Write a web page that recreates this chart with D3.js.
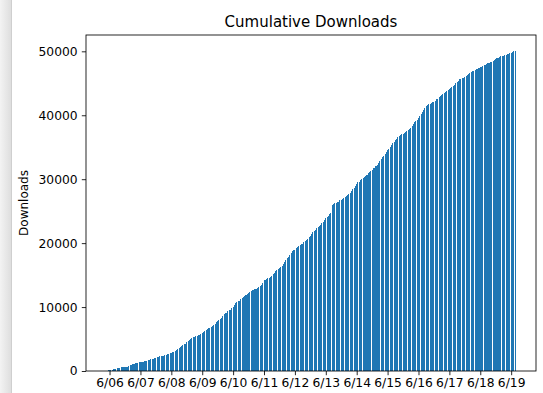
<!DOCTYPE html>
<html>
<head>
<meta charset="utf-8">
<script src="https://cdn.jsdelivr.net/npm/d3@7"></script>
<style>
  html, body { margin: 0; padding: 0; background: #fff; }
  svg { display: block; font-family: "DejaVu Sans", sans-serif; }
</style>
</head>
<body>
<svg id="chart" width="543" height="393"></svg>
<script>
// Hourly cumulative download counts, one row per day (UTC hours 0..23).
const startHour = Date.UTC(2023, 5, 5, 22); // first sample: 6/05 22:00
const lateJun05 = [20, 80];
const jun06 = [150, 190, 230, 280, 320, 370, 410, 460, 500, 550, 590, 620, 650, 670, 690, 760, 880, 1000, 1080, 1130, 1180, 1230, 1290, 1340];
const jun07 = [1360, 1400, 1450, 1500, 1560, 1620, 1700, 1770, 1830, 1880, 1930, 1980, 2050, 2130, 2210, 2290, 2320, 2360, 2400, 2480, 2560, 2650, 2730, 2800];
const jun08 = [2870, 2940, 3010, 3150, 3300, 3450, 3600, 3800, 3950, 4100, 4150, 4200, 4500, 4700, 4850, 5000, 5200, 5300, 5350, 5400, 5500, 5600, 5700, 5800];
const jun09 = [5900, 6050, 6200, 6350, 6500, 6650, 6800, 6950, 7050, 7200, 7400, 7600, 7800, 7950, 8100, 8300, 8600, 8900, 9000, 9100, 9350, 9500, 9600, 9800];
const jun10 = [10000, 10300, 10600, 10800, 10900, 11000, 11200, 11400, 11600, 11800, 11900, 12000, 12200, 12400, 12500, 12600, 12700, 12800, 12900, 13000, 13100, 13300, 13500, 13800];
const jun11 = [14200, 14300, 14400, 14500, 14600, 14700, 14900, 15200, 15400, 15600, 15800, 15900, 16100, 16300, 16500, 16800, 17100, 17300, 17600, 17900, 18200, 18500, 18700, 18900];
const jun12 = [19000, 19200, 19400, 19500, 19700, 19800, 19900, 20100, 20300, 20500, 20700, 20900, 21100, 21400, 21700, 21900, 22100, 22300, 22500, 22700, 22900, 23100, 23300, 23600];
const jun13 = [23900, 24100, 24300, 24500, 24700, 25900, 26100, 26200, 26300, 26400, 26500, 26700, 26800, 26900, 27000, 27200, 27300, 27500, 27700, 27800, 28100, 28400, 28700, 29000];
const jun14 = [29300, 29500, 29600, 29800, 30000, 30200, 30400, 30500, 30700, 30900, 31100, 31300, 31500, 31700, 31800, 32000, 32200, 32500, 32800, 33100, 33400, 33700, 34000, 34300];
const jun15 = [34600, 34800, 35100, 35300, 35600, 35800, 36100, 36300, 36600, 36800, 36900, 37000, 37100, 37300, 37400, 37500, 37700, 37800, 38000, 38300, 38600, 38900, 39100, 39300];
const jun16 = [39600, 39900, 40200, 40500, 40800, 41100, 41400, 41600, 41700, 41800, 41900, 42000, 42100, 42300, 42500, 42600, 42800, 43000, 43200, 43300, 43500, 43700, 43800, 43900];
const jun17 = [44100, 44200, 44400, 44600, 44800, 45000, 45200, 45400, 45600, 45700, 45800, 45900, 46000, 46100, 46300, 46400, 46600, 46700, 46900, 47000, 47100, 47200, 47300, 47400];
const jun18 = [47500, 47600, 47700, 47800, 47900, 48000, 48100, 48200, 48300, 48400, 48500, 48700, 48800, 48900, 49000, 49100, 49200, 49200, 49300, 49400, 49500, 49600, 49600, 49700];
const jun19 = [49800, 49900, 50000, 50050];

const yTicks = [0, 10000, 20000, 30000, 40000, 50000];
const titleText = "Cumulative Downloads";
const yLabelText = "Downloads";

const HOUR = 3600 * 1000;
const counts = [].concat(lateJun05, jun06, jun07, jun08, jun09, jun10, jun11, jun12, jun13, jun14, jun15, jun16, jun17, jun18, jun19);
const data = counts.map((v, i) => ({ t: new Date(startHour + i * HOUR), v }));

const barWidthMs = 0.8 * HOUR;
const margin = { left: 86, right: 536, top: 35, bottom: 371 };

// x extent: bar edges plus 5% padding on each side
const x0 = +data[0].t - barWidthMs / 2;
const x1 = +data[data.length - 1].t + barWidthMs / 2;
const pad = (x1 - x0) * 0.05;
const x = d3.scaleUtc()
  .domain([new Date(x0 - pad), new Date(x1 + pad)])
  .range([margin.left, margin.right]);

const yMax = d3.max(counts) * 1.05;
const y = d3.scaleLinear().domain([0, yMax]).range([margin.bottom, margin.top]);

const svg = d3.select("#chart");

// window edge strip on the far left
const defs = svg.append("defs");
const grad = defs.append("linearGradient").attr("id", "edge").attr("x1", 0).attr("x2", 1);
grad.append("stop").attr("offset", "0%").attr("stop-color", "#f3f3f3");
grad.append("stop").attr("offset", "100%").attr("stop-color", "#dedede");
svg.append("rect").attr("x", 0).attr("y", 0).attr("width", 11).attr("height", 393).attr("fill", "url(#edge)");
svg.append("rect").attr("x", 11).attr("y", 0).attr("width", 1).attr("height", 393).attr("fill", "#cfcfcf");

// bars, snapped to whole pixels
svg.append("g")
  .attr("shape-rendering", "crispEdges")
  .selectAll("rect")
  .data(data)
  .join("rect")
  .attr("x", d => x(new Date(+d.t - barWidthMs / 2)))
  .attr("width", d => x(new Date(+d.t + barWidthMs / 2)) - x(new Date(+d.t - barWidthMs / 2)))
  .attr("y", d => y(d.v))
  .attr("height", d => y(0) - y(d.v))
  .attr("fill", "#1f77b4");

// axes
const dayTicks = d3.utcDay.range(new Date(Date.UTC(2023, 5, 6)), new Date(Date.UTC(2023, 5, 19, 1)));
const xAxis = d3.axisBottom(x)
  .tickValues(dayTicks)
  .tickFormat(d3.utcFormat("%-m/%d"))
  .tickSize(4.2)
  .tickPadding(3.5)
  .tickSizeOuter(0);
const yAxis = d3.axisLeft(y)
  .tickValues(yTicks)
  .tickFormat(d3.format("d"))
  .tickSize(4.2)
  .tickPadding(4.2)
  .tickSizeOuter(0);

const gx = svg.append("g").attr("transform", `translate(0,${margin.bottom})`).call(xAxis);
const gy = svg.append("g").attr("transform", `translate(${margin.left},0)`).call(yAxis);
[gx, gy].forEach(g => {
  g.select(".domain").remove();
  g.selectAll(".tick line").attr("stroke", "#000").attr("stroke-width", 0.85);
  g.selectAll(".tick text").attr("fill", "#000").style("font-size", "12.3px").style("font-family", "DejaVu Sans");
});

// frame
svg.append("rect")
  .attr("x", margin.left).attr("y", margin.top)
  .attr("width", margin.right - margin.left)
  .attr("height", margin.bottom - margin.top)
  .attr("fill", "none").attr("stroke", "#000").attr("stroke-width", 0.85);

// title and axis label
svg.append("text")
  .attr("x", (margin.left + margin.right) / 2).attr("y", 27)
  .attr("text-anchor", "middle")
  .style("font-size", "15px")
  .text(titleText);

svg.append("text")
  .attr("transform", `translate(28,${(margin.top + margin.bottom) / 2}) rotate(-90)`)
  .attr("text-anchor", "middle")
  .style("font-size", "12px")
  .text(yLabelText);
</script>
</body>
</html>
